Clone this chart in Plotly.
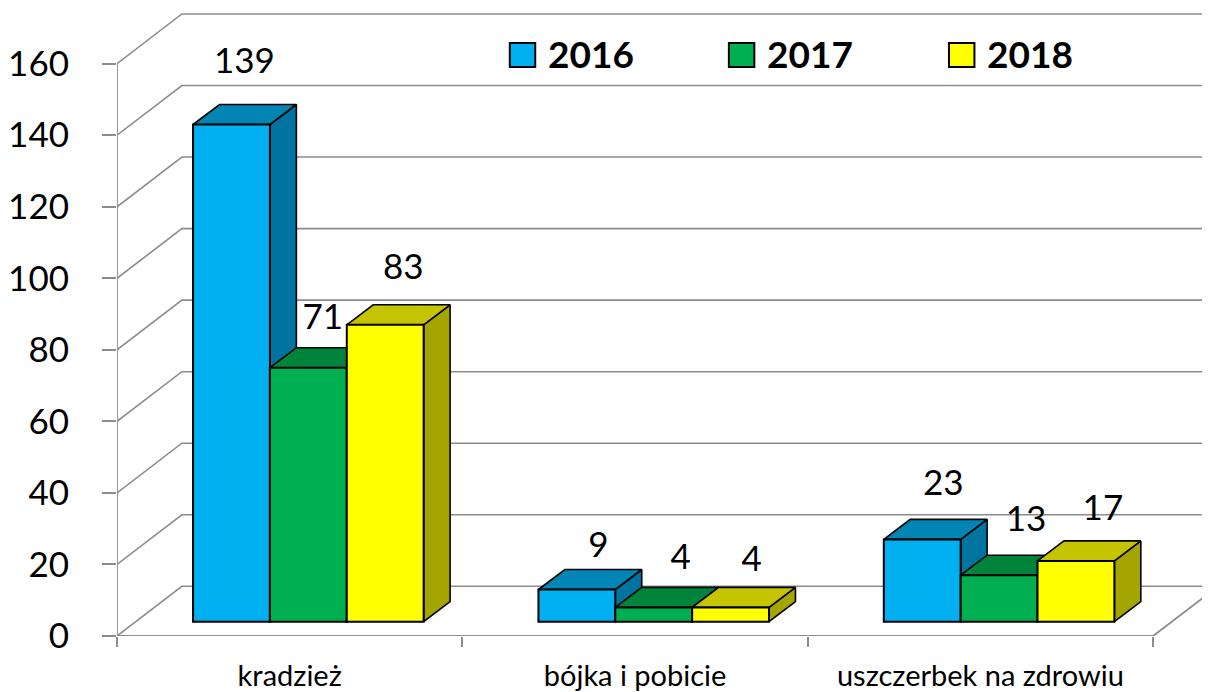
import plotly.graph_objects as go

categories = ["kradzież", "bójka i pobicie", "uszczerbek na zdrowiu"]
years = ["2016", "2017", "2018"]
values_2016 = [139, 9, 23]
values_2017 = [71, 4, 13]
values_2018 = [83, 4, 17]
y_ticks = [0, 20, 40, 60, 80, 100, 120, 140, 160]

front_colors = ["#00B0F0", "#00B050", "#FFFF00"]
top_colors = ["#0085B5", "#00843C", "#C4C400"]
side_colors = ["#0074A0", "#007335", "#A5A500"]
series = [values_2016, values_2017, values_2018]

# Pixel geometry of the oblique projection
W, H = 1210, 692
BODY = 8        # page margin the browser adds round the figure
AX_L, AX_B, AX_T = 115, 636, 8
PX = 346.0      # px per category
PY = 3.577      # px per value unit
WALL_DX, WALL_DY = 65 / PX, 49.7 / PY
BAR_DX, BAR_DY = 26.5 / PX, 20 / PY
BAR_W = 77 / PX
GROUP_SHIFT = 18.7 / PX
BAR_BASE = 4.0
XMIN = -0.5
XMAX = XMIN + (W - AX_L) / PX
YMAX = (AX_B - AX_T) / PY
GRID = "#8C8C8C"

# label nudges in px, from the top-centre of each bar's front face
label_dx = [[13, 21.5, 21], [14.5, 27, 27], [18, 21, 27]]
label_dy = [[60, 41, 53], [47.5, 47, 53], [54.6, 45, 50]]

fig = go.Figure()

# walls
for v in y_ticks:
    xs = [XMIN, XMIN + WALL_DX, XMAX + 1]
    ys = [v, v + WALL_DY, v + WALL_DY]
    fig.add_trace(go.Scatter(x=xs, y=ys, mode="lines", line=dict(color=GRID, width=1.6),
                             hoverinfo="skip", showlegend=False))
fig.add_trace(go.Scatter(x=[XMIN, XMIN], y=[0, 160], mode="lines", line=dict(color=GRID, width=1.8),
                         hoverinfo="skip", showlegend=False))
fig.add_trace(go.Scatter(x=[XMIN, 2.5, 2.5 + WALL_DX], y=[0, 0, WALL_DY], mode="lines",
                         line=dict(color=GRID, width=1.8), hoverinfo="skip", showlegend=False))

def bar_x0(cat, j):
    return cat + GROUP_SHIFT + (j - 1) * BAR_W

# tops and sides
for j, vals in enumerate(series):
    tx, ty, sx, sy = [], [], [], []
    for c, v in enumerate(vals):
        centre = bar_x0(c, j)
        l, r = centre - BAR_W / 2, centre + BAR_W / 2
        t = BAR_BASE + v
        tx += [l, l + BAR_DX, r + BAR_DX, r, l, None]
        ty += [t, t + BAR_DY, t + BAR_DY, t, t, None]
        sx += [r, r + BAR_DX, r + BAR_DX, r, r, None]
        sy += [t, t + BAR_DY, BAR_BASE + BAR_DY, BAR_BASE, t, None]
    fig.add_trace(go.Scatter(x=sx, y=sy, mode="lines", fill="toself", fillcolor=side_colors[j],
                             line=dict(color="black", width=1.6), hoverinfo="skip", showlegend=False))
    fig.add_trace(go.Scatter(x=tx, y=ty, mode="lines", fill="toself", fillcolor=top_colors[j],
                             line=dict(color="black", width=1.6), hoverinfo="skip", showlegend=False))

# front faces on an overlaid subplot so they sit above tops and sides
for j, vals in enumerate(series):
    fig.add_trace(go.Bar(x=[bar_x0(c, j) for c in range(3)], y=vals, base=BAR_BASE, width=BAR_W,
                         name=years[j], marker=dict(color=front_colors[j], line=dict(color="black", width=2)),
                         xaxis="x2", yaxis="y2", showlegend=False))

# data labels
for j, vals in enumerate(series):
    fig.add_trace(go.Scatter(
        x=[bar_x0(c, j) + label_dx[j][c] / PX for c in range(3)],
        y=[BAR_BASE + v + label_dy[j][c] / PY for c, v in enumerate(vals)],
        text=[str(v) for v in vals], mode="text",
        textposition="middle center",
        textfont=dict(family="Lato", size=35, color="black"),
        xaxis="x2", yaxis="y2", hoverinfo="skip", showlegend=False))

# legend
legend_x = [508.5, 728, 948.5]
shapes, annotations = [], []
for j, yr in enumerate(years):
    sx = legend_x[j]
    shapes.append(dict(type="rect", xref="paper", yref="paper",
                       x0=(sx - AX_L) / (W - AX_L), x1=(sx + 25.5 - AX_L) / (W - AX_L),
                       y0=(AX_B - 67) / (AX_B - AX_T), y1=(AX_B - 43) / (AX_B - AX_T),
                       fillcolor=front_colors[j], line=dict(color="black", width=2), layer="above"))
    annotations.append(dict(xref="paper", yref="paper", x=(sx + 36 - AX_L) / (W - AX_L),
                            y=(AX_B - 54) / (AX_B - AX_T), text=f"<b>{yr}</b>", showarrow=False,
                            xanchor="left", yanchor="middle",
                            font=dict(family="Lato", size=37, color="black")))

fig.update_layout(
    width=W - BODY, height=H - BODY, autosize=False,
    margin=dict(l=AX_L - BODY, r=0, t=AX_T - BODY, b=H - AX_B, pad=0),
    paper_bgcolor="white", plot_bgcolor="white",
    barmode="overlay", showlegend=False,
    shapes=shapes, annotations=annotations,
    font=dict(family="Lato", color="black"),
    xaxis=dict(range=[XMIN, XMAX], tickmode="array", tickvals=[0, 1, 2], ticktext=categories,
               ticks="", showgrid=False, zeroline=False, showline=False,
               tickfont=dict(family="Lato", size=29), ticklabelstandoff=20,
               minor=dict(tickmode="array", tickvals=[-0.5, 0.5, 1.5, 2.5], ticks="outside",
                          ticklen=10, tickcolor=GRID, tickwidth=1.5, showgrid=False)),
    yaxis=dict(range=[0, YMAX], tickmode="array", tickvals=y_ticks, ticks="outside", ticklen=14,
               tickcolor=GRID, tickwidth=1.5, showgrid=False, zeroline=False, showline=False,
               tickfont=dict(family="Lato", size=35), ticklabelstandoff=26),
    xaxis2=dict(range=[XMIN, XMAX], overlaying="x", visible=False),
    yaxis2=dict(range=[0, YMAX], overlaying="y", visible=False),
)

fig.write_html("out.html")
